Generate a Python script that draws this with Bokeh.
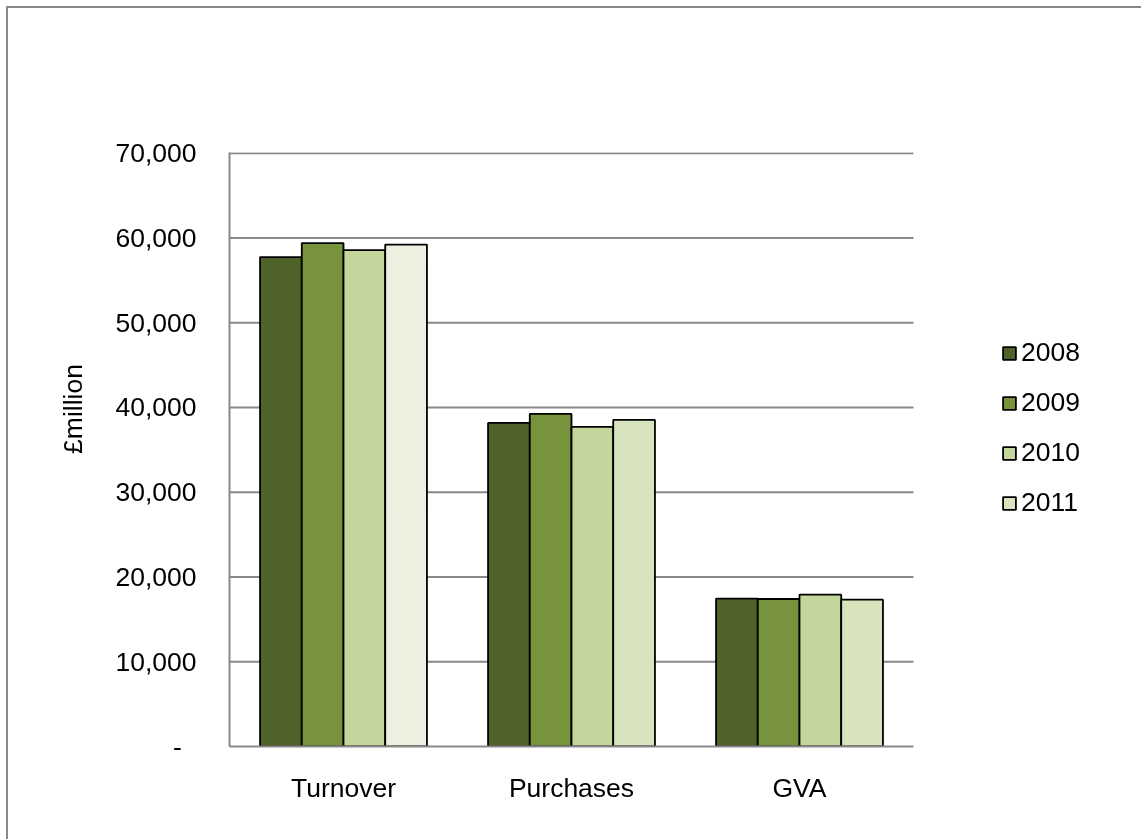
from bokeh.plotting import figure
from bokeh.models import (ColumnDataSource, FixedTicker, NumeralTickFormatter,
                          Legend, LegendItem, Range1d)
from bokeh.transform import dodge
from bokeh.embed import file_html
from bokeh.resources import INLINE

categories = ["Turnover", "Purchases", "GVA"]
years = ["2008", "2009", "2010", "2011"]
values_2008 = [57740, 38180, 17440]
values_2009 = [59390, 39240, 17400]
values_2010 = [58570, 37710, 17910]
values_2011 = [59220, 38530, 17320]
y_ticks = [0, 10000, 20000, 30000, 40000, 50000, 60000, 70000]

series = [values_2008, values_2009, values_2010, values_2011]
# the Turnover 2011 bar is drawn in an even paler tint
bar_colors = [
    ["#4F6228"] * 3,
    ["#77933C"] * 3,
    ["#C3D69B"] * 3,
    ["#EBF1DE", "#D7E4BD", "#D7E4BD"],
]

FONT = "Liberation Sans"
FS = "26.5px"
GRID = "#898989"

W, H = 1137, 835
# category slots sit at 0.5, 1.5, 2.5; the extra room on the right holds the legend
n_cat = len(categories)
cat_pos = [i + 0.5 for i in range(n_cat)]
x_end = n_cat + (8 + W - 913) / 228

p = figure(width=W, height=H, x_range=Range1d(0, x_end),
           y_range=Range1d(0, 70080), output_backend="svg", toolbar_location=None,
           min_border_left=221, min_border_top=144, min_border_right=0,
           min_border_bottom=8 + H - 746)
p.styles = {"position": "fixed", "left": "6px", "top": "6px",
            "border-left": "2px solid #898989", "border-top": "2px solid #898989"}
p.outline_line_color = None
p.background_fill_color = "white"
p.border_fill_color = "white"

# horizontal gridlines across the category area only
grid_y = y_ticks[1:]
p.segment(x0=[0] * len(grid_y), x1=[n_cat] * len(grid_y), y0=grid_y, y1=grid_y,
          line_color=GRID, line_width=2, level="underlay")

bar_w = 0.183
offsets = [-1.5 * bar_w, -0.5 * bar_w, 0.5 * bar_w, 1.5 * bar_w]
renderers = []
for i, (yr, vals) in enumerate(zip(years, series)):
    src = ColumnDataSource(dict(pos=cat_pos, val=vals, color=bar_colors[i]))
    r = p.vbar(x=dodge("pos", offsets[i]), top="val", width=bar_w,
               source=src, fill_color="color", line_color="black", line_width=1.8)
    renderers.append(r)

# axes
p.xaxis.ticker = FixedTicker(ticks=cat_pos)
p.xaxis.major_label_overrides = {pos: c for pos, c in zip(cat_pos, categories)}
p.xaxis.bounds = (0, n_cat)
p.yaxis.ticker = FixedTicker(ticks=y_ticks)
p.yaxis.formatter = NumeralTickFormatter(format="0,0")
p.yaxis.major_label_overrides = {0: "-\u00a0\u00a0"}
for ax in (p.xaxis, p.yaxis):
    ax.major_tick_line_color = None
    ax.minor_tick_line_color = None
    ax.axis_line_color = GRID
    ax.axis_line_width = 2
    ax.major_label_text_font = FONT
    ax.major_label_text_font_size = FS
    ax.major_label_text_color = "black"
p.yaxis.major_label_standoff = 27
p.xaxis.major_label_standoff = 20

# y-axis title (leading spaces lift it above the plot centre as in the original)
p.yaxis.axis_label = "\u00a0" * 11 + "£million"
p.yaxis.axis_label_text_font = FONT
p.yaxis.axis_label_text_font_size = FS
p.yaxis.axis_label_text_font_style = "normal"
p.yaxis.axis_label_text_color = "black"
p.yaxis.axis_label_standoff = 24

p.xgrid.grid_line_color = None
p.ygrid.grid_line_color = None

items = [LegendItem(label=yr, renderers=[r], index=1) for yr, r in zip(years, renderers)]
legend = Legend(items=items, location=(772, 228), orientation="vertical",
                label_text_font=FONT, label_text_font_size=FS, label_text_color="black",
                glyph_width=16, glyph_height=16, label_standoff=4, spacing=19,
                padding=0, margin=0, border_line_color=None, background_fill_alpha=0)
p.add_layout(legend, "center")

open("out.html", "w").write(file_html(p, INLINE))
